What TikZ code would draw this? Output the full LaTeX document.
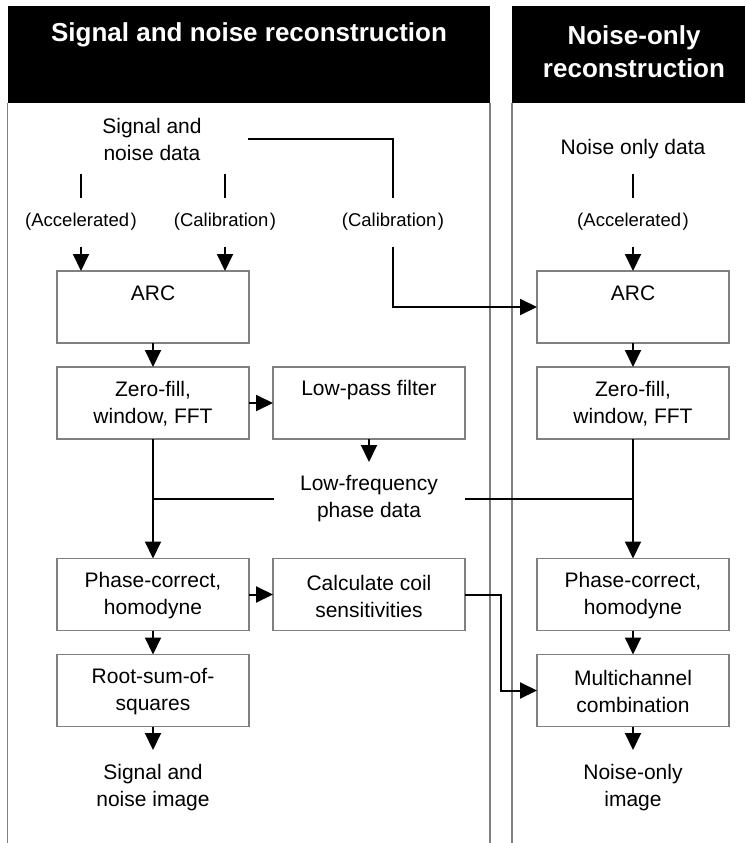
\documentclass[tikz,border=0pt]{standalone}
\usepackage{fontspec}
\setmainfont{Liberation Sans}
\usetikzlibrary{arrows.meta}
\definecolor{boxgray}{HTML}{808080}
\begin{document}
\begin{tikzpicture}[x=1pt,y=-1pt,
  box/.style={draw=boxgray, line width=1.5pt, minimum width=192pt, minimum height=72pt, inner sep=0pt, outer sep=0pt},
  txt/.style={font=\fontsize{21}{27}\selectfont, align=center, inner sep=0pt, outer sep=0pt},
  lbl/.style={font=\fontsize{18.5}{22}\selectfont, inner sep=0pt, outer sep=0pt, minimum height=49pt},
  conn/.style={line width=2pt, draw=black},
  arr/.style={conn, -{Triangle[length=17pt,width=16pt]}},
  panel/.style={draw=boxgray, line width=1.3pt},
  head/.style={font=\fontsize{26}{33}\selectfont\bfseries, text=white, align=center, inner sep=0pt}]
\useasboundingbox (0,0) rectangle (745,843);
% panels
\fill[black] (7.5,6) rectangle (490,103);
\fill[black] (512,6) rectangle (745,103);
\draw[panel] (7.5,103) -- (7.5,843);
\draw[panel] (490,103) -- (490,843);
\draw[panel] (512,103) -- (512,843);
\node[head] (h1) at (249,35) {Signal and noise reconstruction};
\node[head] (h2) at (634,52) {Noise-only\\reconstruction};
% sources
\node[txt, minimum width=192pt, minimum height=70pt] (sand) at (152,139) {Signal and\\noise data};
\node[txt, minimum height=50pt] (nod) at (633,149) {Noise only data};
\node[lbl] (acc1) at (81,222) {(Accelerated\kern1.5pt)};
\node[lbl] (cal1) at (225,222) {(Calibration\kern1.5pt)};
\node[lbl] (cal2) at (393,222) {(Calibration\kern1.5pt)};
\node[lbl] (acc2) at (633,222) {(Accelerated\kern1.5pt)};
% left boxes
\node[box] (arc) at (153,307) {};
\node[txt] (arct) at (153,293) {ARC};
\node[box] (zf) at (153,403) {};
\node[txt] (zft) at (153,403.5) {Zero-fill,\\window, FFT};
\node[box] (lp) at (369,403) {};
\node[txt] (lpt) at (369,390) {Low-pass filter};
\node[txt, minimum width=191pt, minimum height=74pt] (lf) at (369,499) {Low-frequency\\phase data};
\node[box] (ph) at (153,594.5) {};
\node[txt] (pht) at (153,596) {Phase-correct,\\homodyne};
\node[box] (cc) at (369,594.5) {};
\node[txt] (cct) at (369,596) {Calculate coil\\sensitivities};
\node[box] (rss) at (153,690.5) {};
\node[txt] (rsst) at (153,691.5) {Root-sum-of-\\squares};
\node[txt, minimum height=75pt] (sni) at (153,787.5) {Signal and\\noise image};
% right boxes
\node[box] (rarc) at (633,307) {};
\node[txt] (rarct) at (633,293) {ARC};
\node[box] (rzf) at (633,403) {};
\node[txt] (rzft) at (633,403.5) {Zero-fill,\\window, FFT};
\node[box] (rph) at (633,594.5) {};
\node[txt] (rpht) at (633,596) {Phase-correct,\\homodyne};
\node[box] (mc) at (633,690.5) {};
\node[txt] (mct) at (633,691.5) {Multichannel\\combination};
\node[txt, minimum height=75pt] (noi) at (633,787.5) {Noise-only\\image};
% connectors top
\draw[conn] (sand.south -| acc1.north) -- (acc1.north);
\draw[arr] (acc1.south) -- (acc1.south |- arc.north);
\draw[conn] (sand.south -| cal1.north) -- (cal1.north);
\draw[arr] (cal1.south) -- (cal1.south |- arc.north);
\draw[conn] (sand.east) -| (cal2.north);
\draw[arr] (cal2.south) |- (rarc.west);
\draw[conn] (nod.south) -- (acc2.north);
\draw[arr] (acc2.south) -- (rarc.north);
% left chain
\draw[arr] (arc.south) -- (zf.north);
\draw[arr] (zf.east) -- (lp.west);
\draw[arr] (lp.south) -- (lf.north);
\draw[arr] (zf.south) -- (ph.north);
\draw[conn] (lf.west) -- (lf.west -| zf.south);
\draw[conn] (lf.east) -- (lf.east -| rzf.south);
\draw[arr] (ph.east) -- (cc.west);
\draw[arr] (cc.east) -- ++(36,0) |- (mc.west);
\draw[arr] (ph.south) -- (rss.north);
\draw[arr] (rss.south) -- (sni.north);
% right chain
\draw[arr] (rarc.south) -- (rzf.north);
\draw[arr] (rzf.south) -- (rph.north);
\draw[arr] (rph.south) -- (mc.north);
\draw[arr] (mc.south) -- (noi.north);
\end{tikzpicture}
\end{document}
